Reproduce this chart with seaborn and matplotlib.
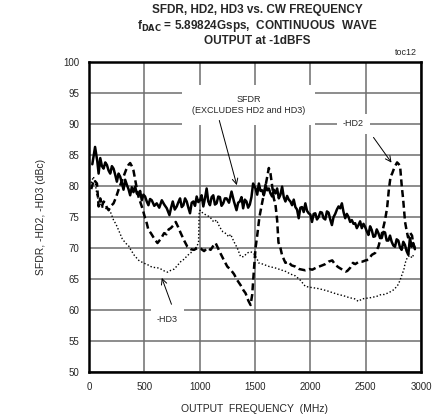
import numpy as np
import pandas as pd
import matplotlib
matplotlib.use("Agg")
import matplotlib.pyplot as plt
import seaborn as sns

# values (MHz, dBc)
sfdr_freq = [30, 55, 75, 87, 102, 117, 132, 147, 162, 177, 192, 207, 222, 237, 252, 267, 282, 297,
             312, 327, 342, 357, 372, 387, 402, 417, 432, 447, 462, 477, 492, 507, 522, 537, 552,
             567, 590, 612, 635, 658, 680, 703, 727, 742, 757, 775, 793, 808, 823, 838, 853, 868,
             883, 898, 913, 928, 943, 958, 973, 988, 1003, 1018, 1033, 1048, 1063, 1078, 1093,
             1108, 1123, 1138, 1153, 1168, 1183, 1198, 1213, 1228, 1243, 1265, 1288, 1310, 1333,
             1348, 1363, 1378, 1393, 1408, 1423, 1438, 1453, 1468, 1483, 1505, 1520, 1535, 1550,
             1565, 1580, 1595, 1610, 1625, 1640, 1655, 1670, 1685, 1700, 1715, 1730, 1745, 1760,
             1775, 1790, 1805, 1820, 1835, 1850, 1865, 1880, 1895, 1910, 1925, 1940, 1955, 1970,
             1985, 2000, 2015, 2030, 2045, 2060, 2075, 2090, 2105, 2120, 2135, 2150, 2165, 2180,
             2195, 2210, 2225, 2240, 2255, 2270, 2285, 2300, 2315, 2330, 2345, 2360, 2375, 2390,
             2405, 2420, 2435, 2450, 2465, 2480, 2495, 2510, 2525, 2540, 2555, 2570, 2585, 2600,
             2615, 2630, 2645, 2660, 2675, 2690, 2705, 2720, 2735, 2750, 2765, 2780, 2795, 2810,
             2825, 2840, 2855, 2870, 2885, 2900, 2915, 2930, 2945]
sfdr_dbc = [83.5, 86.3, 84.0, 82.0, 84.5, 83.2, 82.8, 83.8, 83.4, 82.5, 82.0, 83.2, 82.8, 81.8, 80.7,
            82.0, 81.5, 80.5, 79.4, 81.0, 80.2, 79.5, 78.5, 79.8, 79.0, 79.9, 78.8, 78.5, 79.2,
            77.7, 78.6, 78.3, 77.5, 76.9, 77.9, 77.7, 76.8, 77.2, 76.5, 77.7, 77.0, 76.4, 75.3,
            76.5, 77.5, 76.2, 76.7, 77.4, 78.0, 76.6, 76.9, 78.0, 77.5, 76.5, 75.6, 77.3, 77.5,
            76.8, 78.3, 77.4, 77.7, 78.5, 76.7, 78.0, 79.6, 77.5, 76.9, 78.2, 78.5, 77.0, 77.2,
            78.3, 78.2, 76.8, 77.2, 78.0, 78.0, 77.3, 79.1, 77.5, 76.1, 77.3, 77.5, 78.2, 76.4,
            77.8, 77.5, 76.5, 77.0, 78.2, 80.4, 79.6, 78.6, 80.4, 79.2, 79.3, 78.5, 80.2, 79.3,
            79.6, 78.8, 78.3, 79.4, 78.8, 79.6, 78.0, 78.6, 79.9, 78.2, 77.5, 78.4, 77.8, 77.5,
            76.9, 77.8, 76.6, 76.2, 74.8, 76.5, 76.6, 75.8, 77.2, 76.0, 75.6, 75.4, 74.2, 75.5,
            75.6, 74.6, 75.0, 75.8, 75.7, 74.8, 74.6, 75.9, 75.7, 74.6, 73.7, 75.0, 75.5, 76.2,
            76.7, 76.4, 77.2, 75.8, 74.8, 75.5, 75.0, 74.2, 74.5, 73.9, 74.0, 73.2, 73.7, 74.3,
            73.2, 73.9, 73.4, 72.7, 72.1, 73.5, 72.9, 71.8, 71.9, 73.0, 72.4, 71.6, 71.6, 72.6,
            72.5, 71.2, 71.2, 72.0, 71.0, 70.4, 70.2, 71.4, 71.2, 70.1, 69.7, 71.0, 70.5, 69.5,
            68.9, 71.6, 70.2, 70.8, 69.8]

hd2_freq = [20, 45, 72, 87, 102, 117, 132, 147, 162, 177, 200, 222, 245, 267, 290, 312, 335, 357,
            372, 387, 402, 417, 432, 447, 462, 477, 492, 507, 522, 537, 559, 590, 619, 650, 679,
            700, 720, 739, 760, 784, 805, 829, 860, 889, 920, 949, 980, 1009, 1040, 1070, 1099,
            1125, 1144, 1165, 1189, 1220, 1250, 1280, 1310, 1340, 1370, 1395, 1415, 1440, 1460,
            1475, 1490, 1505, 1520, 1540, 1568, 1590, 1610, 1625, 1640, 1655, 1670, 1685, 1700,
            1712, 1730, 1745, 1775, 1800, 1830, 1865, 1900, 1930, 1955, 1990, 2018, 2050, 2080,
            2108, 2135, 2165, 2198, 2225, 2253, 2290, 2320, 2334, 2360, 2385, 2406, 2440, 2470,
            2500, 2523, 2556, 2586, 2615, 2649, 2675, 2694, 2710, 2725, 2739, 2760, 2784, 2800,
            2811, 2826, 2838, 2856, 2870, 2883, 2900, 2919, 2930, 2945]
hd2_dbc = [79.5, 81.0, 80.4, 76.7, 78.0, 76.7, 77.5, 77.2, 76.5, 76.1, 76.8, 77.2, 78.2, 79.4, 80.5,
           81.5, 82.6, 83.4, 83.7, 83.2, 82.5, 81.0, 79.6, 78.3, 77.5, 76.7, 75.8, 74.8, 74.0,
           72.9, 72.4, 71.5, 70.8, 71.5, 72.4, 72.2, 73.0, 73.2, 73.6, 74.2, 73.4, 72.4, 71.2,
           70.2, 69.8, 69.7, 70.0, 69.9, 69.5, 70.0, 69.7, 70.4, 70.8, 70.0, 69.1, 68.0, 67.0,
           66.5, 65.8, 64.8, 64.0, 63.2, 62.7, 61.5, 60.8, 62.5, 66.4, 70.0, 72.0, 75.0, 77.6,
           79.5, 81.5, 82.9, 82.0, 80.0, 78.0, 77.0, 74.5, 70.9, 70.0, 68.8, 67.6, 67.8, 67.2,
           67.0, 66.6, 66.5, 66.4, 66.6, 66.5, 66.8, 67.0, 67.2, 67.4, 67.8, 68.0, 67.3, 66.9,
           66.5, 66.2, 66.3, 66.8, 67.6, 67.4, 67.8, 67.8, 68.0, 68.1, 68.9, 69.2, 70.2, 72.5,
           74.5, 76.5, 79.5, 81.5, 82.0, 83.0, 83.8, 83.5, 83.2, 80.0, 78.0, 74.2, 72.8, 71.7,
           72.5, 72.0, 70.6, 70.0]

hd3_freq = [20, 40, 57, 72, 87, 102, 117, 132, 162, 192, 222, 245, 267, 300, 330, 360, 378, 410,
            450, 490, 530, 570, 620, 650, 680, 710, 740, 770, 800, 829, 860, 890, 919, 950, 975,
            990, 995, 1003, 1030, 1060, 1093, 1127, 1153, 1180, 1210, 1240, 1262, 1280, 1310,
            1340, 1370, 1397, 1430, 1460, 1490, 1520, 1532, 1570, 1600, 1630, 1680, 1730, 1780,
            1820, 1865, 1910, 1955, 2018, 2060, 2108, 2150, 2200, 2253, 2300, 2350, 2400, 2433,
            2470, 2510, 2549, 2600, 2640, 2667, 2710, 2757, 2790, 2811, 2830, 2845, 2856, 2870,
            2883, 2900, 2919, 2935]
hd3_dbc = [80.5, 81.5, 80.4, 78.5, 77.7, 77.2, 76.7, 76.5, 76.3, 75.9, 74.5, 73.8, 72.9, 71.5, 70.8,
           70.3, 69.7, 68.8, 68.0, 67.6, 67.3, 66.9, 66.8, 66.6, 66.3, 66.1, 66.4, 66.6, 67.2,
           67.8, 68.2, 68.8, 69.2, 69.8, 70.2, 71.0, 75.5, 76.1, 75.6, 75.3, 75.0, 74.2, 74.5,
           73.4, 72.6, 72.3, 71.8, 72.2, 71.0, 70.0, 68.6, 68.6, 69.2, 69.4, 69.1, 68.2, 67.6,
           67.4, 67.2, 67.0, 66.8, 66.5, 66.2, 65.8, 65.5, 64.8, 63.8, 63.6, 63.5, 63.3, 63.1,
           62.8, 62.5, 62.3, 62.0, 61.8, 61.4, 61.8, 61.9, 62.0, 62.2, 62.5, 62.5, 62.8, 63.3,
           64.0, 64.8, 65.8, 66.5, 67.5, 68.2, 68.6, 68.8, 68.4, 69.0]

x_ticks = [0, 500, 1000, 1500, 2000, 2500, 3000]
y_ticks = [50, 55, 60, 65, 70, 75, 80, 85, 90, 95, 100]

sns.set_style("white")
plt.rcParams['font.family'] = ['Liberation Sans', 'DejaVu Sans']

fig = plt.figure(figsize=(4.39, 4.16), dpi=100)
ax = fig.add_axes([0.2027, 0.1058, 0.7563, 0.7452])

sns.lineplot(x=sfdr_freq, y=sfdr_dbc, ax=ax, color='black', linewidth=1.8, zorder=5)
sns.lineplot(x=hd2_freq, y=hd2_dbc, ax=ax, color='black', linewidth=1.8,
             linestyle=(0, (2.8, 1.5)), zorder=4)
sns.lineplot(x=hd3_freq, y=hd3_dbc, ax=ax, color='black', linewidth=1.0,
             linestyle=(0, (1, 1.5)), zorder=4)

ax.set_xlim(0, 3000)
ax.set_ylim(50, 100)
ax.set_xticks(x_ticks)
ax.set_yticks(y_ticks)
ax.tick_params(length=0, labelsize=7, pad=7)
ax.grid(True, color='#6e6e6e', linewidth=1.1)
ax.set_axisbelow(True)
for s in ax.spines.values():
    s.set_color('black')
    s.set_linewidth(1.8)

ax.set_xlabel('OUTPUT  FREQUENCY  (MHz)', fontsize=7.5, labelpad=9)
ax.set_ylabel('SFDR, -HD2, -HD3 (dBc)', fontsize=7.5, labelpad=12)

fig.text(0.587, 0.975, 'SFDR, HD2, HD3 vs. CW FREQUENCY', ha='center', va='center',
         fontsize=8.5, fontweight='bold')
fig.text(0.587, 0.937, r'f$_{\mathbf{DAC}}$ = 5.89824Gsps,  CONTINUOUS  WAVE', ha='center',
         va='center', fontsize=8.5, fontweight='bold')
fig.text(0.587, 0.902, 'OUTPUT at -1dBFS', ha='center', va='center', fontsize=8.5,
         fontweight='bold')
fig.text(0.925, 0.873, 'toc12', ha='center', va='center', fontsize=6.5)

box = dict(facecolor='white', edgecolor='none', pad=4)
ax.text(1440, 93.1, 'SFDR\n(EXCLUDES HD2 and HD3)', ha='center', va='center', fontsize=6.5,
        linespacing=1.3, bbox=dict(facecolor='white', edgecolor='none', pad=7), zorder=3)
ax.annotate('', xy=(1342, 79.7), xytext=(1171, 91.0),
            arrowprops=dict(arrowstyle='->', color='black', lw=0.7), zorder=6)

ax.text(2390, 90.0, '-HD2', ha='center', va='center', fontsize=6.5, bbox=box, zorder=3)
ax.annotate('', xy=(2748, 83.4), xytext=(2556, 88.2),
            arrowprops=dict(arrowstyle='->', color='black', lw=0.7), zorder=6)

ax.text(710, 58.5, '-HD3', ha='center', va='center', fontsize=6.5, bbox=box, zorder=3)
ax.annotate('', xy=(649, 65.6), xytext=(754, 60.5),
            arrowprops=dict(arrowstyle='->', color='black', lw=0.7), zorder=6)

fig.savefig('out.png', dpi=100)
